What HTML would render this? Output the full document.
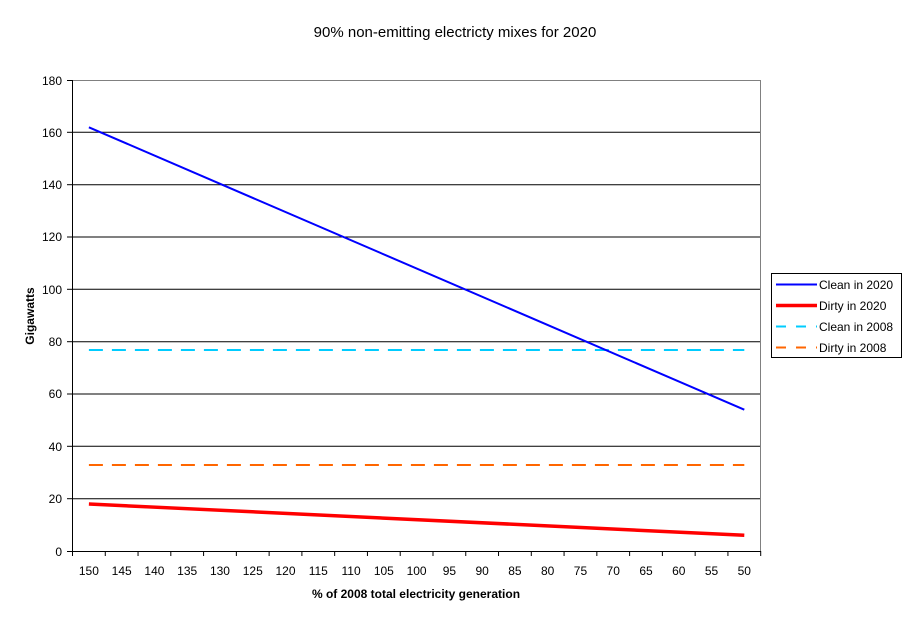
<!DOCTYPE html>
<html><head><style>body{margin:0;background:#fff}svg{display:block}text{font-family:"Liberation Sans",Arial,sans-serif}</style></head><body>
<svg width="911" height="623" viewBox="0 0 911 623">
<text x="455" y="37" font-size="15" text-anchor="middle">90% non-emitting electricty mixes for 2020</text>
<g stroke="#000" stroke-width="1">
<line x1="72" y1="498.7" x2="761" y2="498.7"/><line x1="72" y1="446.3" x2="761" y2="446.3"/>
<line x1="72" y1="394" x2="761" y2="394"/><line x1="72" y1="341.7" x2="761" y2="341.7"/>
<line x1="72" y1="289.3" x2="761" y2="289.3"/><line x1="72" y1="237" x2="761" y2="237"/>
<line x1="72" y1="184.7" x2="761" y2="184.7"/><line x1="72" y1="132.3" x2="761" y2="132.3"/>
</g>
<path d="M72.5 80.5H760.5V551" fill="none" stroke="#808080"/>
<path d="M72.5 80V551.5H761" fill="none" stroke="#000"/>
<g stroke="#000">
<line x1="67" y1="80.5" x2="72" y2="80.5"/><line x1="67" y1="132.3" x2="72" y2="132.3"/><line x1="67" y1="184.7" x2="72" y2="184.7"/><line x1="67" y1="237" x2="72" y2="237"/><line x1="67" y1="289.3" x2="72" y2="289.3"/><line x1="67" y1="341.7" x2="72" y2="341.7"/><line x1="67" y1="394" x2="72" y2="394"/><line x1="67" y1="446.3" x2="72" y2="446.3"/><line x1="67" y1="498.7" x2="72" y2="498.7"/><line x1="67" y1="551.5" x2="72" y2="551.5"/>
</g>
<g font-size="12" text-anchor="end">
<text x="62" y="85">180</text><text x="62" y="137">160</text><text x="62" y="189">140</text><text x="62" y="241">120</text><text x="62" y="294">100</text><text x="62" y="346">80</text><text x="62" y="398">60</text><text x="62" y="451">40</text><text x="62" y="503">20</text><text x="62" y="556">0</text>
</g>
<g id="xt" stroke="#000"></g>
<g id="xl" font-size="12" text-anchor="middle"></g>
<text x="416" y="598" font-size="12" font-weight="bold" text-anchor="middle">% of 2008 total electricity generation</text>
<text x="34" y="316" font-size="12" font-weight="bold" text-anchor="middle" transform="rotate(-90 34 316)">Gigawatts</text>
<line x1="88.9" y1="350" x2="744.3" y2="350" stroke="#00ccff" stroke-width="2" stroke-dasharray="14,9"/>
<line x1="88.9" y1="465" x2="744.3" y2="465" stroke="#ff6600" stroke-width="2" stroke-dasharray="14,9"/>
<line x1="88.9" y1="127.3" x2="744.3" y2="409.7" stroke="#0000ff" stroke-width="2"/>
<line x1="88.9" y1="504" x2="744.3" y2="535.3" stroke="#ff0000" stroke-width="3.5"/>
<rect x="771.5" y="273.5" width="130" height="84" fill="#fff" stroke="#000"/>
<line x1="776" y1="284.5" x2="817" y2="284.5" stroke="#0000ff" stroke-width="2"/>
<line x1="776" y1="305.5" x2="817" y2="305.5" stroke="#ff0000" stroke-width="3.5"/>
<line x1="776" y1="326.5" x2="817" y2="326.5" stroke="#00ccff" stroke-width="2" stroke-dasharray="10,10"/>
<line x1="776" y1="347.5" x2="817" y2="347.5" stroke="#ff6600" stroke-width="2" stroke-dasharray="10,10"/>
<g font-size="12"><text x="819" y="289">Clean in 2020</text><text x="819" y="310">Dirty in 2020</text><text x="819" y="331">Clean in 2008</text><text x="819" y="352">Dirty in 2008</text></g>
<script>
var t=document.getElementById('xt'),l=document.getElementById('xl'),w=(760.7-72.5)/21,ns='http://www.w3.org/2000/svg';
for(var i=0;i<=21;i++){var x=72.5+i*w,e=document.createElementNS(ns,'line');e.setAttribute('x1',x);e.setAttribute('x2',x);e.setAttribute('y1',551);e.setAttribute('y2',556);t.appendChild(e);
if(i<21){var s=document.createElementNS(ns,'text');s.setAttribute('x',x+w/2);s.setAttribute('y',575);s.textContent=150-5*i;l.appendChild(s);}}
</script>
</svg>
</body></html>
